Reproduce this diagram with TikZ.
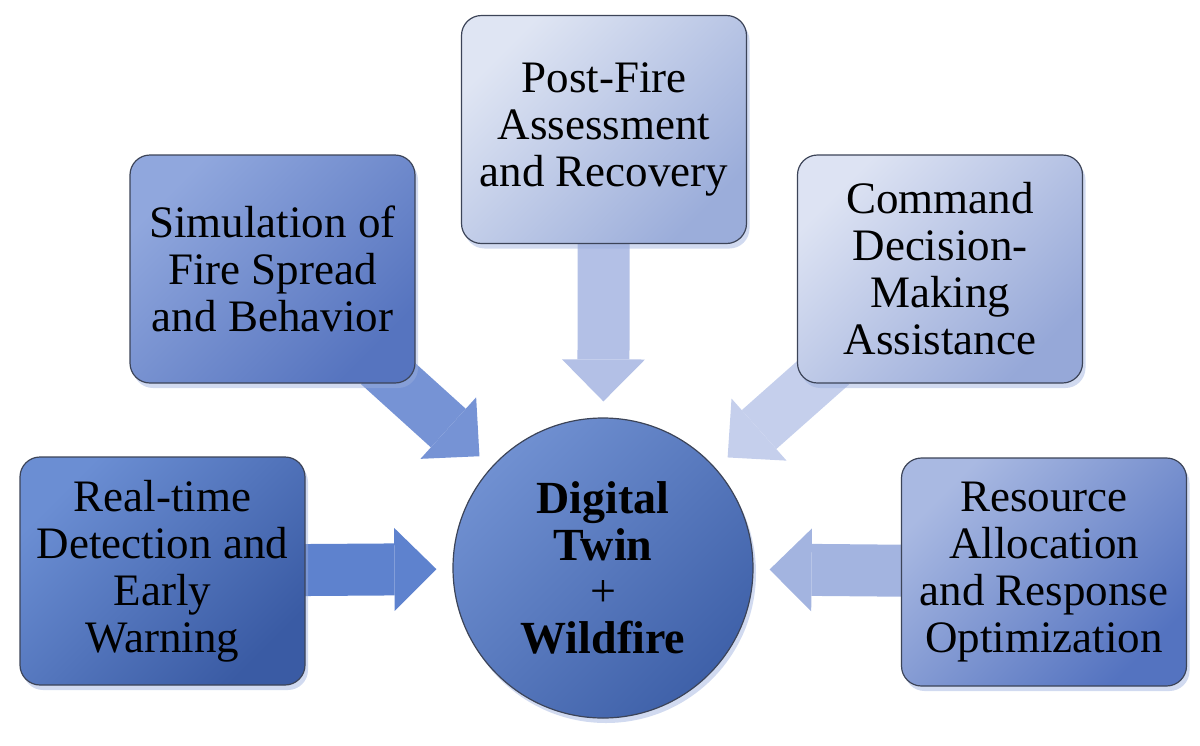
\documentclass[tikz,border=0pt]{standalone}
\usepackage{fontspec}
\setmainfont{Liberation Serif}
\usetikzlibrary{arrows.meta,backgrounds,shadows}

\definecolor{rtTop}{HTML}{6B8ED3}  \definecolor{rtBot}{HTML}{3A5BA4}
\definecolor{simTop}{HTML}{90A7DD} \definecolor{simBot}{HTML}{5674BF}
\definecolor{pfTop}{HTML}{DFE5F3}  \definecolor{pfBot}{HTML}{9BADDA}
\definecolor{cmdTop}{HTML}{DDE3F3} \definecolor{cmdBot}{HTML}{96A8D8}
\definecolor{resTop}{HTML}{A9B9E2} \definecolor{resBot}{HTML}{5473C0}
\definecolor{dtTop}{HTML}{7090D1}  \definecolor{dtBot}{HTML}{3F61A9}
\definecolor{rtFlow}{HTML}{5E82CE} \definecolor{simFlow}{HTML}{7693D5}
\definecolor{pfFlow}{HTML}{B3C0E6} \definecolor{cmdFlow}{HTML}{C5CFEC}
\definecolor{resFlow}{HTML}{A3B4E0}
\definecolor{edge}{HTML}{3C4458}
\definecolor{haze}{HTML}{9AAEDD}

\begin{document}
\begin{tikzpicture}[x=0.5pt, y=-0.5pt,
    tile/.style={draw=edge, line width=0.6pt, rounded corners=10pt,
      minimum width=142.5pt, minimum height=114pt, inner sep=0pt, align=center,
      font=\fontsize{22.5}{23.5}\selectfont,
      drop shadow={shadow xshift=1.5pt, shadow yshift=-2.5pt, fill=haze, opacity=0.45}},
    tint/.style 2 args={top color=#1, bottom color=#2, shading angle=45},
    hub/.style={circle, draw=edge, line width=0.6pt, minimum size=150pt, inner sep=0pt,
      align=center, font=\fontsize{23}{23.3}\selectfont,
      drop shadow={shadow xshift=1.5pt, shadow yshift=-2.5pt, fill=haze, opacity=0.45}},
    flow/.style={line width=26pt, draw=#1,
      -{Triangle[width=41.5pt, length=21pt, line width=0pt, fill=#1]},
      shorten >=8pt, shorten <=-14pt}]
  % Canvas size of the reference
  \useasboundingbox (0,0) rectangle (1200,745);

  % Centre circle
  \node[hub, tint={dtTop}{dtBot}] (dt) at (603,568)
    {\textbf{Digital}\\\textbf{Twin}\\+\\\textbf{Wildfire}};

  % Surrounding application tiles
  \node[tile, tint={rtTop}{rtBot}] (rt) at (162.5,571)
    {Real-time\\Detection and\\Early\\Warning};
  \node[tile, tint={simTop}{simBot}] (sim) at (272.5,269)
    {Simulation of\\Fire Spread\\and Behavior};
  \node[tile, tint={pfTop}{pfBot}] (pf) at (604,129.5)
    {Post-Fire\\Assessment\\and Recovery};
  \node[tile, tint={cmdTop}{cmdBot}] (cmd) at (940,269)
    {Command\\Decision-\\Making\\Assistance};
  \node[tile, tint={resTop}{resBot}] (res) at (1044,572)
    {Resource\\Allocation\\and Response\\Optimization};

  % Block arrows pointing into the circle
  \begin{scope}[on background layer]
    \draw[flow=rtFlow] (rt) -- (dt);
    \draw[flow=simFlow] (sim) -- (dt);
    \draw[flow=pfFlow] (pf) -- (dt);
    \draw[flow=cmdFlow] (cmd) -- (dt);
    \draw[flow=resFlow] (res) -- (dt);
  \end{scope}
\end{tikzpicture}
\end{document}
